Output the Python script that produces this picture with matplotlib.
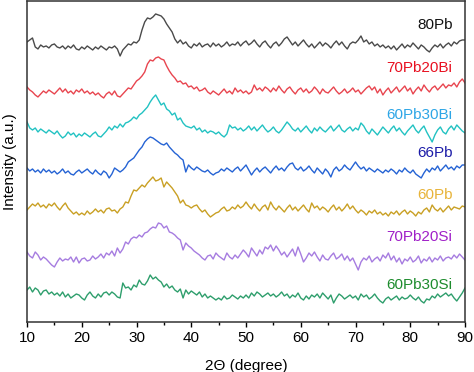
import numpy as np
import matplotlib.pyplot as plt


output_file = "out.png"

# scan range of the patterns, 0.5 degree step
two_theta_start = 10.0
two_theta_stop = 90.0

sample_names = [
    "80Pb",
    "70Pb20Bi",
    "60Pb30Bi",
    "66Pb",
    "60Pb",
    "70Pb20Si",
    "60Pb30Si",
]

# intensities (a.u.), 10 to 90 degree, 0.5 degree step
int_80pb = [
    10, 12, 14, 5, 3, 7, 5, 6, 4, 7,
    8, 5, 4, 6, 3, 6, 4, 7, 3, 2,
    5, 3, 6, 4, 2, 5, 3, 6, 4, 2,
    5, 4, 6, 3, -4, 2, 5, 8, 7, 10,
    9, 12, 22, 30, 34, 33, 35, 38, 37, 36,
    33, 28, 24, 20, 13, 9, 12, 8, 10, 6,
    4, 8, 6, 9, 5, 7, 8, 5, 9, 6,
    8, 5, 7, 10, 6, 8, 7, 10, 6, 9,
    11, 7, 9, 12, 8, 5, 9, 11, 7, 4,
    8, 10, 6, 9, 13, 15, 11, 7, 10, 6,
    9, 12, 8, 5, 8, 4, 7, 10, 6, 9,
    7, 4, 8, 11, 7, 10, 6, 3, 8, 10,
    9, 12, 16, 10, 12, 8, 10, 6, 8, 5,
    7, 4, 6, 3, 6, 2, 5, 8, 4, 7,
    5, 9, 6, 3, 7, 5, 2, 0, 4, 7,
    5, 8, 4, 7, 9, 6, 10, 8, 11, 12,
    12,
]

int_70pb20bi = [
    10, 7, 5, 2, 0, 3, 6, 4, 7, 5,
    3, 6, 9, 5, 8, 4, 6, 3, 7, 5,
    8, 4, 6, 3, 5, 2, 4, 1, -1, 3,
    5, 2, 6, 1, 0, 3, 6, 9, 8, 12,
    16, 18, 21, 25, 33, 37, 36, 39, 40, 38,
    37, 31, 26, 22, 19, 15, 16, 13, 14, 10,
    11, 8, 10, 6, 7, 9, 5, 3, 6, 4,
    2, 5, 8, 4, 6, 3, 9, 5, 7, 4,
    6, 3, 5, 12, 7, 9, 6, 10, 8, 5,
    9, 6, 11, 7, 4, 8, 10, 6, 3, 7,
    9, 5, 8, 4, 6, 10, 7, 3, 8, 5,
    4, 7, 10, 6, 3, 5, 8, 4, 6, 9,
    5, 7, 3, 6, 9, 11, 7, 10, 4, 8,
    2, 6, 9, 4, 7, 10, 5, 8, 11, 6,
    9, 3, 7, 10, 6, 12, 8, 5, 9, 11,
    7, 10, 13, 9, 12, 11, 14, 10, 15, 18,
    14,
]

int_60pb30bi = [
    18, 12, 10, 12, 8, 11, 9, 7, 10, 8,
    6, 9, 5, 2, 4, 8, 5, 7, 3, 6,
    4, 7, 5, 3, 6, 8, 4, 3, 6, 9,
    13, 10, 14, 12, 16, 13, 17, 18, 20, 23,
    21, 25, 27, 30, 33, 38, 42, 45, 40, 35,
    37, 31, 29, 25, 27, 20, 22, 17, 14, 13,
    12, 14, 10, 12, 8, 10, 7, 9, 8, 6,
    8, 5, 3, 6, 15, 12, 13, 10, 12, 9,
    11, 14, 10, 13, 9, 12, 15, 11, 8, 10,
    13, 9, 7, 10, 14, 18, 15, 11, 9, 12,
    8, 11, 14, 10, 7, 12, 9, 13, 10, 8,
    11, 14, 9, 12, 15, 10, 8, 11, 13, 9,
    12, 10, 17, 14, 9, 6, 11, 8, 5, 9,
    13, 10, 7, 11, 14, 9, 12, 8, 5, 9,
    12, 15, 10, 7, 11, 14, 8, 3, -2, 5,
    10, 13, 8, 6, 11, 14, 10, 15, 12, 9,
    7,
]

int_66pb = [
    10, 7, 9, 6, 8, 5, 9, 6, 8, 5,
    7, 4, 6, 9, 5, 7, 4, 3, 6, 8,
    5, 7, 9, 6, 4, 8, 5, 3, 7, 5,
    0, 4, 10, 8, 6, 8, 11, 16, 18, 20,
    24, 28, 31, 36, 39, 41, 40, 38, 36, 34,
    33, 35, 31, 28, 25, 23, 20, 18, 6, 13,
    10, 8, 11, 9, 7, 6, 8, 5, 3, 5,
    6, 9, 7, 10, 8, 6, 9, 11, 7, 10,
    13, 8, 3, 7, 10, 6, 9, 11, 8, 5,
    9, 12, 8, 10, 7, 11, 14, 15, 10, 8,
    11, 7, 9, 12, 8, 5, 10, 7, 4, 9,
    6, 1, 8, 11, 7, 9, 13, 10, 8, 12,
    16, 12, 9, 11, 7, 10, 8, 6, 9, 7,
    5, 8, 6, 9, 7, 4, 8, 6, 10, 7,
    5, 8, 4, 2, 0, 5, 9, 6, 10, 8,
    12, 7, 10, 13, 9, 11, 8, 12, 10, 13,
    13,
]

int_60pb = [
    8, 11, 14, 12, 15, 11, 13, 10, 14, 12,
    15, 11, 8, 12, 15, 10, 7, 4, 6, 3,
    5, 3, 7, 4, 6, 9, 6, 8, 5, 9,
    10, 7, 8, 5, 9, 11, 16, 15, 22, 28,
    27, 30, 33, 31, 35, 38, 41, 37, 38, 40,
    31, 36, 33, 30, 26, 22, 15, 18, 13, 12,
    10, 12, 13, 9, 6, 8, 4, 1, 3, 5,
    6, 9, 11, 7, 8, 11, 9, 13, 10, 12,
    16, 12, 9, 14, 10, 7, 11, 13, 8, 16,
    11, 8, 12, 9, 6, 10, 13, 8, 11, 7,
    10, 13, 9, 6, 15, 10, 12, 8, 11, 9,
    6, 10, 13, 8, 11, 7, 10, 14, 9, 12,
    8, 5, 8, 6, 3, 7, 5, 8, 4, 6,
    3, 5, 2, 6, 4, 7, 3, 6, 8, 4,
    7, 5, 2, 6, 4, 8, 10, 6, 13, 9,
    7, 10, 6, 9, 12, 8, 11, 10, 9, 12,
    11,
]

int_70pb20si = [
    16, 12, 10, 16, 13, 8, 11, 9, 6, 3,
    1, 6, 10, 7, 9, 8, 11, 6, 11, 5,
    9, 10, 7, 8, 12, 9, 11, 14, 10, 15,
    13, 17, 12, 20, 15, 19, 26, 24, 29, 31,
    30, 33, 31, 35, 36, 39, 41, 40, 45, 44,
    40, 42, 36, 35, 33, 30, 28, 18, 25, 22,
    20, 17, 15, 13, 10, 8, 12, 13, 9, 15,
    12, 10, 8, 15, 11, 9, 13, 10, 14, 18,
    15, 11, 20, 16, 12, 18, 14, 21, 19, 23,
    17, 22, 18, 13, 16, 11, 15, 19, 12, 21,
    14, 6, 10, 15, 12, 16, 11, 7, 13, 9,
    8, 12, 15, 9, 11, 14, 8, 12, 7, 10,
    4, -2, 6, 10, 8, 12, 6, 9, 11, 7,
    13, 10, 15, 8, 12, 6, 10, 4, 9, 7,
    11, 6, 8, 12, 5, 9, 7, 11, 6, 10,
    8, 12, 7, 10, 11, 9, 13, 10, 14, 11,
    8,
]

int_60pb30si = [
    13, 16, 11, 15, 13, 8, 12, 13, 9, 11,
    8, 10, 7, 11, 6, 9, 5, 7, 9, 8,
    5, 3, 8, 11, 7, 5, 9, 6, 10, 11,
    8, 11, 9, 6, 5, 20, 15, 16, 13, 18,
    16, 23, 19, 18, 22, 28, 24, 26, 23, 21,
    16, 19, 15, 17, 13, 11, 14, 5, 13, 9,
    12, 10, 8, 11, 6, 9, 5, 7, 5, 3,
    5, 3, 7, 4, 5, 8, 6, 4, 7, 5,
    8, 5, 10, 7, 11, 9, 6, 8, 10, 7,
    9, 6, 8, 11, 7, 9, 5, 8, 6, 10,
    5, 3, 7, 4, 8, 6, 9, 5, 10, 7,
    4, 8, 0, 5, 9, 7, 4, 6, 8, 5,
    7, 3, 9, 6, 8, 4, 6, 9, 5, 2,
    0, 4, 6, 3, 5, 7, 3, 6, 4, 5,
    8, 5, 3, 6, 2, 0, 4, 3, 7, 5,
    9, 6, 8, 10, 7, 9, 5, 2, 6, 10,
    15,
]

intensity_list = [
    int_80pb,
    int_70pb20bi,
    int_60pb30bi,
    int_66pb,
    int_60pb,
    int_70pb20si,
    int_60pb30si,
]

# vertical stacking of the patterns
offset_list = [270, 225, 182, 144, 104, 54, 19]

# label heights next to each pattern
label_y_list = [297, 254, 207, 169, 127, 85, 37]

line_color_list = [
    "#4a4a4a",
    "#e8454f",
    "#22c2c2",
    "#2563d4",
    "#c9a024",
    "#a67ce0",
    "#2e9e6c",
]

label_color_list = [
    "#111111",
    "#e81020",
    "#2ea6e6",
    "#1c1ca8",
    "#e8b43a",
    "#a020c8",
    "#1e8c2e",
]


def main():
    '''
    stacked xrd patterns of the glass samples
    '''

    plt.rcParams["font.family"] = ["Liberation Sans", "DejaVu Sans"]

    fig = plt.figure(
        figsize=(4.74, 3.72),
        dpi=100,
    )

    ax = fig.add_axes([0.057, 0.1344, 0.924, 0.863])

    for k in range(len(sample_names)):

        intensity_arr = np.array(intensity_list[k], dtype=float)

        two_theta_arr = np.linspace(
            two_theta_start,
            two_theta_stop,
            len(intensity_arr),
        )

        ax.plot(
            two_theta_arr,
            intensity_arr + offset_list[k],
            color=line_color_list[k],
            linewidth=1.0,
        )

        ax.text(
            87.7,
            label_y_list[k],
            sample_names[k],
            color=label_color_list[k],
            fontsize=11,
            ha="right",
            va="center",
        )

    ax.set_xlim(10, 90)
    ax.set_ylim(0, 321)

    ax.set_xticks(np.arange(10, 91, 10))
    ax.set_xticks(np.arange(15, 90, 10), minor=True)
    ax.set_yticks([])

    ax.tick_params(
        axis="x",
        which="major",
        direction="out",
        length=3.6,
        width=1,
        labelsize=11,
        pad=3,
    )

    ax.tick_params(
        axis="x",
        which="minor",
        direction="out",
        length=2,
        width=1,
    )

    for side in ["left", "bottom", "right", "top"]:
        ax.spines[side].set_linewidth(1.1)
        ax.spines[side].set_color("#333333")

    ax.set_xlabel(
        "2\u0398 (degree)",
        fontsize=11,
        labelpad=10,
    )

    ax.set_ylabel(
        "Intensity (a.u.)",
        fontsize=11,
        labelpad=7,
    )

    fig.savefig(output_file, dpi=100)


if __name__ == "__main__":

    main()
